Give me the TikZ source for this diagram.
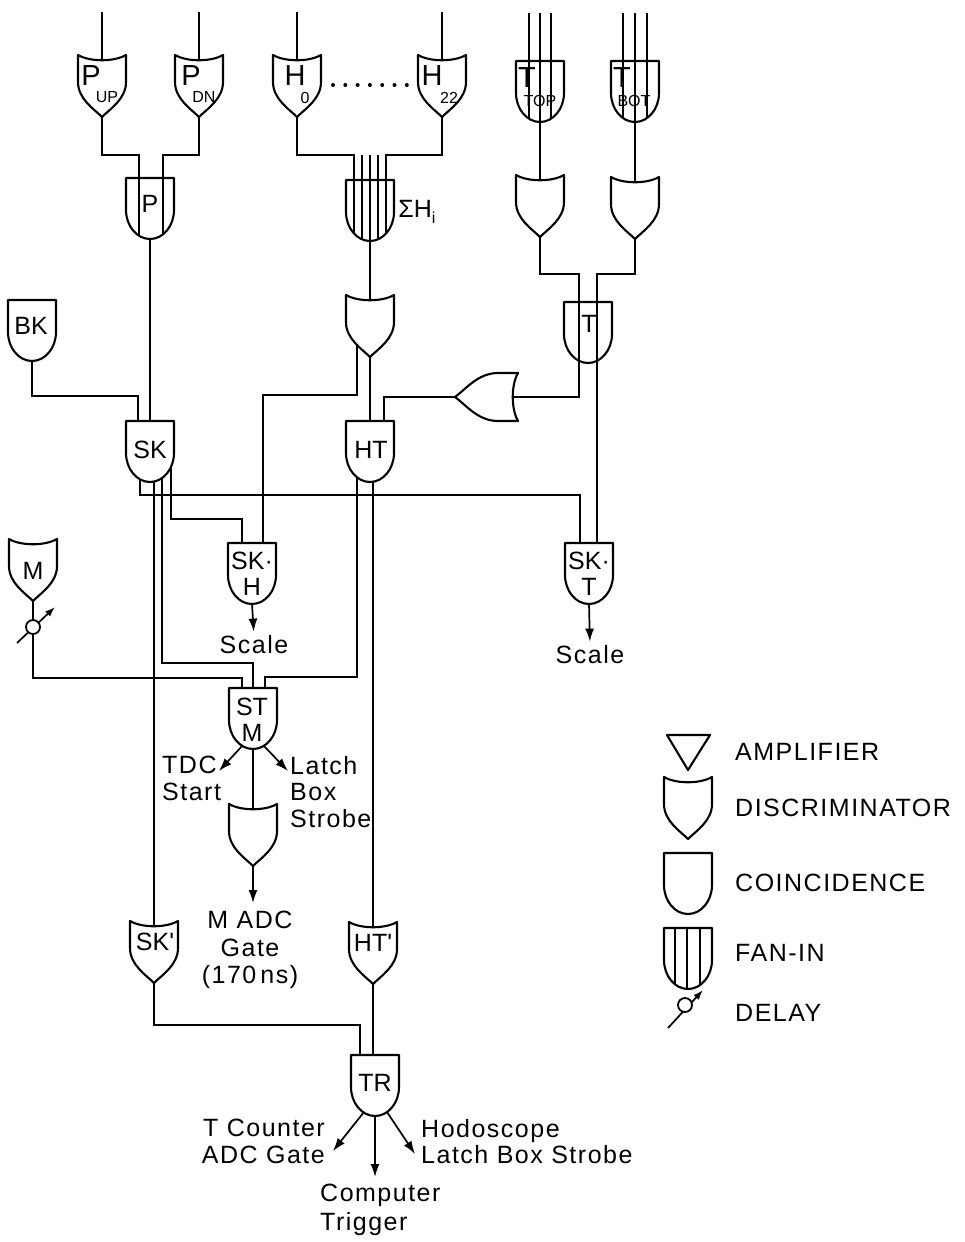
\documentclass[tikz,border=0pt]{standalone}
\usepackage{fontspec}
\newfontfamily\labfam[LetterSpace=6]{Liberation Sans}
\newfontfamily\gatefam{Liberation Sans}
\usetikzlibrary{arrows.meta,backgrounds}
\newcommand\txtfont{\labfam\fontsize{25}{26.5}\selectfont}
\newcommand\gfont{\gatefam\fontsize{25}{25.5}\selectfont}
\newcommand\gbig{\gatefam\fontsize{29}{29}\selectfont}
\newcommand\gsub{\gatefam\fontsize{16}{16}\selectfont}
% discriminator: name, cx, top
\newcommand\discg[3]{%
 \begin{scope}[shift={(#2,#3)}]
  \filldraw[gate] (-24,0) -- (-24,27) .. controls (-24,44) and (-8,54) .. (0,62) .. controls (8,54) and (24,44) .. (24,27) -- (24,0) .. controls (12,7) and (-12,7) .. cycle;
 \end{scope}
 \coordinate (#1-t) at (#2,#3+5);
 \coordinate (#1-b) at (#2,#3+62);}
% coincidence: name, cx, top
\newcommand\coing[3]{%
 \begin{scope}[shift={(#2,#3)}]
  \filldraw[gate] (-24,0) -- (24,0) -- (24,32) .. controls (24,48) and (13.2,61) .. (0,61) .. controls (-13.2,61) and (-24,48) .. (-24,32) -- cycle;
 \end{scope}
 \coordinate (#1-t) at (#2,#3);
 \coordinate (#1-b) at (#2,#3+61);}
% fan-in / pass-through: name, cx, top, offsets
\newcommand\fang[4]{%
 \begin{scope}[shift={(#2,#3)}]
  \filldraw[gate] (-24,0) -- (24,0) -- (24,32) .. controls (24,48) and (13.2,61) .. (0,61) .. controls (-13.2,61) and (-24,48) .. (-24,32) -- cycle;
  \begin{scope}
   \clip (-24,0) -- (24,0) -- (24,32) .. controls (24,48) and (13.2,61) .. (0,61) .. controls (-13.2,61) and (-24,48) .. (-24,32) -- cycle;
   \foreach \o in {#4} {\draw[wire] (\o,-1) -- (\o,62);}
  \end{scope}
 \end{scope}
 \coordinate (#1-t) at (#2,#3);
 \coordinate (#1-b) at (#2,#3+61);}
\begin{document}
\begin{tikzpicture}[x=1pt,y=-1pt,
  gate/.style={line width=2.1pt,fill=white,line join=round},
  wire/.style={line width=1.7pt},
  arr/.style={wire,-{Latex[length=13pt,width=9pt]}},
  darr/.style={wire,-{Latex[length=10pt,width=7pt]}},
  txt/.style={font=\txtfont,inner sep=0pt},
  gl/.style={font=\gfont,inner sep=0pt},
  gb/.style={font=\gbig,inner sep=0pt},
  gs/.style={font=\gsub,inner sep=0pt},
  delayc/.style={circle,draw,fill=white,line width=1.8pt,minimum size=14pt,inner sep=0pt}]
\useasboundingbox (0,0) rectangle (964,1242);
\begin{scope}[on background layer]
 \fill[white] (0,0) rectangle (964,1242);
\end{scope}

% ---------- gates ----------
\discg{Pup}{102}{55}
\discg{Pdn}{199}{55}
\discg{Hz}{297}{55}
\discg{Hn}{442}{55}
\fang{Tt}{540}{61}{-11,0,11}
\fang{Tb}{635}{61}{-12,0,12}
\discg{DTt}{540}{175}
\discg{DTb}{635}{177}
\fang{P}{150}{178}{-11,13}
\fang{SH}{370}{180}{-16,-8,0,8,16}
\discg{DH}{370}{295}
\fang{T}{588}{302}{-9,9}
\coing{BK}{32}{300}
\coing{SK}{150}{421}
\coing{HT}{370}{421}
\filldraw[gate] (518,373) -- (498,373) .. controls (478,373) and (466,389) .. (455,397) .. controls (466,405) and (478,421) .. (498,421) -- (518,421) .. controls (511,409) and (511,385) .. cycle;
\coordinate (OR-tip) at (455,397);
\coordinate (OR-back) at (513,397);
\coing{SKH}{252}{543}
\coing{SKT}{589}{543}
\discg{M}{33}{539}
\node[delayc] (D1) at (33,627) {};
\coing{STM}{253}{688}
\discg{MADC}{253}{804}
\discg{SKp}{154}{921}
\discg{HTp}{373}{922}
\coing{TR}{375}{1055}

% legend symbols
\draw[gate] (667,735) -- (710,735) -- (688,770) -- cycle;
\discg{Ldis}{688}{777}
\coing{Lcoi}{688}{853}
\fang{Lfan}{688}{928}{-13,-1,12}
\node[delayc] (D2) at (685,1005) {};

% ---------- free ends ----------
\coordinate (Pup-in) at (102,12);
\coordinate (Pdn-in) at (199,12);
\coordinate (Hz-in) at (297,12);
\coordinate (Hn-in) at (442,12);
\coordinate (Tt-in) at (540,13);
\coordinate (Tb-in) at (635,13);
\coordinate (tdcend) at (219,771);
\coordinate (latchend) at (288,771);
\coordinate (madcend) at (253,903);
\coordinate (tcend) at (333,1151);
\coordinate (compend) at (375,1177);
\coordinate (hodend) at (415,1154);

% ---------- texts ----------
\node[gb] (lPup) at (91,76) {P};
\node[gs] (lPups) at (107,97) {UP};
\node[gb] (lPdn) at (191,76) {P};
\node[gs] (lPdns) at (204,97) {DN};
\node[gb] (lHz) at (295,76) {H};
\node[gs] (lHzs) at (305,98) {0};
\node[gb] (lHn) at (432,76) {H};
\node[gs] (lHns) at (449,98) {22};
\foreach \k in {0,...,6} {\fill ({333+\k*12.3},85) circle (2pt);}
\node[gb] (lTt) at (527,78) {T};
\node[gs] (lTts) at (540,101) {TOP};
\node[gb] (lTb) at (622,78) {T};
\node[gs] (lTbs) at (634,101) {BOT};
\node[gl] (lP) at (150,204) {P};
\node[gl] (lSH) at (417,212) {ΣH\raisebox{-6pt}{\gsub i}};
\node[gl] (lBK) at (31,326) {BK};
\node[gl] (lSK) at (150,450) {SK};
\node[gl] (lHT) at (371,450) {HT};
\node[gl] (lT) at (589,324) {T};
\node[gl,align=center] (lSKH) at (252,574) {SK·\\H};
\node[gl,align=center] (lSKT) at (589,574) {SK·\\T};
\node[gl] (lM) at (33,571) {M};
\node[gl,align=center] (lSTM) at (252,720) {ST\\M};
\node[gl] (lSKp) at (155,942) {SK\textquotesingle};
\node[gl] (lHTp) at (373,943) {HT\textquotesingle};
\node[gl] (lTR) at (375,1083) {TR};
\node[txt] (scaleA) at (254,645) {Scale};
\node[txt] (scaleB) at (590,655) {Scale};
\node[txt,anchor=north west,align=left] (tdc) at (162,756) {TDC\\Start};
\node[txt,anchor=north west,align=left] (latch) at (290,756) {Latch\\Box\\Strobe};
\node[txt,anchor=north,align=center] (madc) at (250,911) {M ADC\\[1pt]Gate\\[1pt](170\,ns)};
\node[txt,anchor=north east,align=right] (tcount) at (325,1119) {T Counter\\ADC Gate};
\node[txt,anchor=north west,align=left] (hodo) at (421,1119) {Hodoscope\\Latch Box Strobe};
\node[txt,anchor=north west,align=left] (comp) at (320,1184) {Computer\\[2.5pt]Trigger};
\node[txt,anchor=west] (lamp) at (735,752) {AMPLIFIER};
\node[txt,anchor=west] (ldis) at (735,808) {DISCRIMINATOR};
\node[txt,anchor=west] (lcoi) at (735,883) {COINCIDENCE};
\node[txt,anchor=west] (lfan) at (735,953) {FAN-IN};
\node[txt,anchor=west] (ldel) at (735,1013) {DELAY};

% ---------- wires ----------
\begin{scope}[on background layer]
 \draw[wire] (Pup-in) -- (Pup-t);
 \draw[wire] (Pdn-in) -- (Pdn-t);
 \draw[wire] (Hz-in) -- (Hz-t);
 \draw[wire] (Hn-in) -- (Hn-t);
 \foreach \o in {-11,0,11} {\draw[wire] ([xshift=\o pt]Tt-in) -- ([xshift=\o pt]Tt-t);}
 \foreach \o in {-12,0,12} {\draw[wire] ([xshift=\o pt]Tb-in) -- ([xshift=\o pt]Tb-t);}
 \draw[wire] (Pup-b) -- ++(0,38) -| ([xshift=-11pt]P-t);
 \draw[wire] (Pdn-b) -- ++(0,38) -| ([xshift=13pt]P-t);
 \draw[wire] (Hz-b) -- ++(0,38) -| ([xshift=-16pt]SH-t);
 \draw[wire] (Hn-b) -- ++(0,38) -| ([xshift=16pt]SH-t);
 \foreach \o in {-8,0,8} {\draw[wire] ([xshift=\o pt]SH-t) -- ++(0,-25);}
 \draw[wire] (P-b) -- (SK-t);
 \draw[wire] (SH-b) -- (DH-t);
 \draw[wire] (Tt-b) -- (DTt-t);
 \draw[wire] (Tb-b) -- (DTb-t);
 \draw[wire] (DTt-b) -- ++(0,37) -| ([xshift=-9pt]T-t);
 \draw[wire] (DTb-b) -- ++(0,35) -| ([xshift=9pt]T-t);
 \draw[wire] ([xshift=-9pt,yshift=8pt]T-b) |- (OR-back);
 \draw[wire] ([xshift=9pt,yshift=8pt]T-b) -- ([xshift=8pt]SKT-t);
 \draw[wire] (OR-tip) -| ([xshift=14pt]HT-t);
 \draw[wire] (DH-b) -- (HT-t);
 \draw[wire] ([xshift=-13pt,yshift=12pt]DH-b) -- ([xshift=-13pt,yshift=-38pt]DH-b) -| ([xshift=11pt]SKH-t);
 \draw[wire] (BK-b) -- ++(0,35) -| ([xshift=-12pt]SK-t);
 \draw[wire] ([xshift=-10pt,yshift=10pt]SK-b) -- ([xshift=-10pt,yshift=-13pt]SK-b) -| ([xshift=-9pt]SKT-t);
 \draw[wire] ([xshift=4pt,yshift=5pt]SK-b) -- (SKp-t);
 \draw[wire] ([xshift=12pt,yshift=8pt]SK-b) -- ([xshift=12pt,yshift=-181pt]SK-b) -| (STM-t);
 \draw[wire] ([xshift=21pt,yshift=18pt]SK-b) -- ([xshift=21pt,yshift=-37pt]SK-b) -| ([xshift=-10pt]SKH-t);
 \draw[wire] ([xshift=-13pt,yshift=10pt]HT-b) -- ([xshift=-13pt,yshift=-195pt]HT-b) -| ([xshift=12pt]STM-t);
 \draw[wire] ([xshift=3pt,yshift=5pt]HT-b) -- (HTp-t);
 \draw[arr,shorten >=4pt] (SKH-b) -- (scaleA.north);
 \draw[arr,shorten >=4pt] (SKT-b) -- (scaleB.north);
 \draw[wire] (M-b) -- (D1);
 \draw[wire] (D1.south) -- ++(0,43) -| ([xshift=-11pt]STM-t);
 \draw[darr] ([shift={(-16pt,-16pt)}]D1.center) -- ([shift={(22pt,20pt)}]D1.center);
 \draw[arr] ([xshift=-10pt,yshift=4pt]STM-b) -- (tdcend);
 \draw[arr] ([xshift=10pt,yshift=4pt]STM-b) -- (latchend);
 \draw[wire] (STM-b) -- (MADC-t);
 \draw[arr] (MADC-b) -- (madcend);
 \draw[wire] (SKp-b) -- ++(0,42) -| ([xshift=-15pt]TR-t);
 \draw[wire] (HTp-b) -- ([xshift=-2pt]TR-t);
 \draw[arr] ([xshift=-11pt,yshift=4pt]TR-b) -- (tcend);
 \draw[arr] (TR-b) -- (compend);
 \draw[arr] ([xshift=12pt,yshift=4pt]TR-b) -- (hodend);
 \draw[darr] ([shift={(-17pt,-23pt)}]D2.center) -- ([shift={(18pt,15pt)}]D2.center);
\end{scope}
\end{tikzpicture}
\end{document}
